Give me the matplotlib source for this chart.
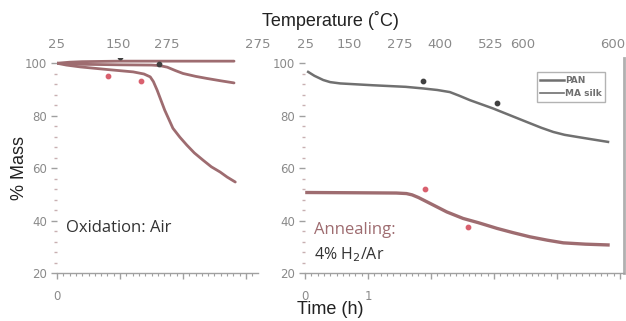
import matplotlib
matplotlib.use("Agg")
import matplotlib.pyplot as plt
from matplotlib.ticker import MultipleLocator
import numpy as np

# ---------------- data (time in h, % mass) ----------------
# Oxidation panel (left)
ox_a_t = [0.0, 0.2, 0.4, 1.0, 1.7, 2.3, 2.81]
ox_a_m = [100.0, 100.4, 100.6, 100.8, 100.8, 100.8, 100.8]
ox_b_t = [0.0, 0.15, 0.37, 1.0, 1.5, 1.63, 1.75, 1.88, 2.0, 2.2, 2.38, 2.6, 2.81]
ox_b_m = [100.0, 99.8, 99.6, 99.4, 99.3, 99.1, 98.5, 97.2, 96.1, 95.0, 94.2, 93.3, 92.5]
ox_c_t = [0.0, 0.15, 0.37, 0.8, 1.21, 1.38, 1.48, 1.53, 1.59, 1.71, 1.84, 1.95, 2.06,
          2.18, 2.32, 2.45, 2.59, 2.7, 2.83]
ox_c_m = [100.0, 99.3, 98.6, 97.6, 96.7, 95.9, 94.8, 93.0, 89.7, 82.1, 75.2, 71.8, 68.8,
          65.8, 63.0, 60.5, 58.5, 56.6, 54.7]
ox_dark_t = [1.0, 1.62]
ox_dark_m = [102.4, 99.9]
ox_red_t = [0.81, 1.33]
ox_red_m = [95.0, 93.3]

# Annealing panel (right)
pan_t = [0.05, 0.15, 0.29, 0.4, 0.56, 1.08, 1.6, 1.87, 2.1, 2.30, 2.45, 2.62, 2.98,
         3.25, 3.52, 3.75, 3.94, 4.12, 4.32, 4.55, 4.81]
pan_m = [96.7, 95.2, 93.6, 92.8, 92.3, 91.6, 91.0, 90.4, 89.8, 89.0, 87.6, 85.9, 82.8,
         80.2, 77.6, 75.4, 73.8, 72.7, 71.9, 71.0, 70.0]
silk_t = [0.03, 0.8, 1.45, 1.61, 1.7, 1.8, 2.03, 2.25, 2.51, 2.75, 3.05, 3.3, 3.57,
          3.85, 4.10, 4.45, 4.81]
silk_m = [50.7, 50.6, 50.5, 50.3, 49.8, 48.8, 46.0, 43.3, 40.8, 39.2, 37.0, 35.4, 33.8,
          32.5, 31.5, 31.0, 30.7]
an_dark_t = [1.87, 3.05]
an_dark_m = [93.3, 84.9]
an_red_t = [1.90, 2.59]
an_red_m = [51.9, 37.4]

# tick labels
y_ticks = [20, 40, 60, 80, 100]
left_temp_pos = [0.0, 0.98, 1.75, 3.19]
left_temp_lbl = ["25", "150", "275", "275"]
right_temp_pos = [0.0, 0.71, 1.51, 2.14, 2.94, 3.46, 4.88]
right_temp_lbl = ["25", "150", "275", "400", "525", "600", "600"]
left_time_lbl = ["0"]
right_time_lbl = ["0", "1"]
legend_labels = ["PAN", "MA silk"]

# ---------------- styling ----------------
MAROON = "#9e6c70"
GRAY = "#707070"
TICKGRAY = "#8a8a8a"
AXGRAY = "#a0a0a0"

fig = plt.figure(figsize=(6.26, 3.21), dpi=100)
bottom = 1 - 273 / 321
top = 1 - 58 / 321
axL = fig.add_axes([57 / 626, bottom, 201 / 626, top - bottom])
axR = fig.add_axes([305 / 626, bottom, 319 / 626, top - bottom])

for ax, xmax in ((axL, 201 / 63), (axR, 319 / 63)):
    ax.set_xlim(0, xmax)
    ax.set_ylim(20, 102)
    for s in ("top", "left", "right"):
        ax.spines[s].set_visible(False)
    ax.spines["bottom"].set_color(AXGRAY)
    ax.spines["bottom"].set_linewidth(1.0)
    ax.set_yticks(y_ticks)
    ax.set_yticklabels([str(v) for v in y_ticks])
    ax.yaxis.set_minor_locator(MultipleLocator(4))
    ax.tick_params(axis="y", which="major", length=4, width=1, color=AXGRAY,
                   labelcolor=TICKGRAY, labelsize=8.5, pad=3)
    ax.tick_params(axis="y", which="minor", length=2, width=1, color="#c8b0b2")
    ax.xaxis.set_minor_locator(MultipleLocator(0.1))
    ax.tick_params(axis="x", which="major", length=4, width=1, color=AXGRAY,
                   labelcolor=TICKGRAY, labelsize=8.5, pad=8)
    ax.tick_params(axis="x", which="minor", length=2, width=0.8, color=AXGRAY)
    ax.patch.set_alpha(0)

axL.set_xticks([0, 1, 2, 3])
axL.set_xticklabels(left_time_lbl + ["", "", ""])
axR.set_xticks([0, 1, 2, 3, 4, 5])
axR.set_xticklabels(right_time_lbl + ["", "", "", ""])

# left panel curves
for tt, mm in ((ox_a_t, ox_a_m), (ox_b_t, ox_b_m), (ox_c_t, ox_c_m)):
    axL.plot(tt, mm, color=MAROON, lw=2.0, solid_capstyle="round", solid_joinstyle="round")
axL.scatter(ox_dark_t, ox_dark_m, s=10, color="#404040", zorder=5)
axL.scatter(ox_red_t, ox_red_m, s=10, color="#d9606e", zorder=5)

# right panel curves
axR.plot(pan_t, pan_m, color=GRAY, lw=1.8, label=legend_labels[0], solid_joinstyle="round")
axR.plot(silk_t, silk_m, color=MAROON, lw=2.4, solid_joinstyle="round")
axR.plot([], [], color=GRAY, lw=1.2, label=legend_labels[1])
axR.scatter(an_dark_t, an_dark_m, s=10, color="#404040", zorder=5)
axR.scatter(an_red_t, an_red_m, s=10, color="#d9606e", zorder=5)

axR.spines["right"].set_visible(True)
axR.spines["right"].set_color("#b0b0b0")
axR.spines["right"].set_linewidth(2.0)

leg = axR.legend(loc="upper right", bbox_to_anchor=(0.955, 0.955), fontsize=6.5,
                 frameon=True, fancybox=False, handlelength=2.6, handletextpad=0.1,
                 borderpad=0.4, labelspacing=0.5)
leg.get_frame().set_edgecolor("#a0a0a0")
leg.get_frame().set_linewidth(1.0)
for t in leg.get_texts():
    t.set_color(GRAY)
    t.set_fontweight("bold")

# top temperature axes
for ax, pos, lbl in ((axL, left_temp_pos, left_temp_lbl), (axR, right_temp_pos, right_temp_lbl)):
    tw = ax.twiny()
    tw.set_xlim(ax.get_xlim())
    tw.set_xticks(pos)
    tw.set_xticklabels(lbl)
    for s in tw.spines.values():
        s.set_visible(False)
    tw.tick_params(axis="x", length=0, labelcolor=TICKGRAY, labelsize=9.5, pad=5)

# text
fig.text(330 / 626, 1 - 20 / 321, "Temperature (\u02daC)", ha="center", va="center",
         fontsize=13, family="Liberation Sans", color="#222222")
fig.text(330 / 626, 1 - 310 / 321, "Time (h)", ha="center", va="center",
         fontsize=13, family="Liberation Sans", color="#222222")
fig.text(20 / 626, 1 - 168 / 321, "% Mass", ha="center", va="center", rotation=90,
         fontsize=13, family="Liberation Sans", color="#222222")
fig.text(66 / 626, 1 - 228 / 321, "Oxidation: Air", ha="left", va="center",
         fontsize=12, family="Open Sans", color="#333333")
fig.text(314 / 626, 1 - 230 / 321, "Annealing:", ha="left", va="center",
         fontsize=12, family="Open Sans", color=MAROON)
fig.text(314 / 626, 1 - 255 / 321, "4% H$_2$/Ar", ha="left", va="center",
         fontsize=11.5, family="Open Sans", color="#333333")

fig.savefig("out.png", dpi=100)
